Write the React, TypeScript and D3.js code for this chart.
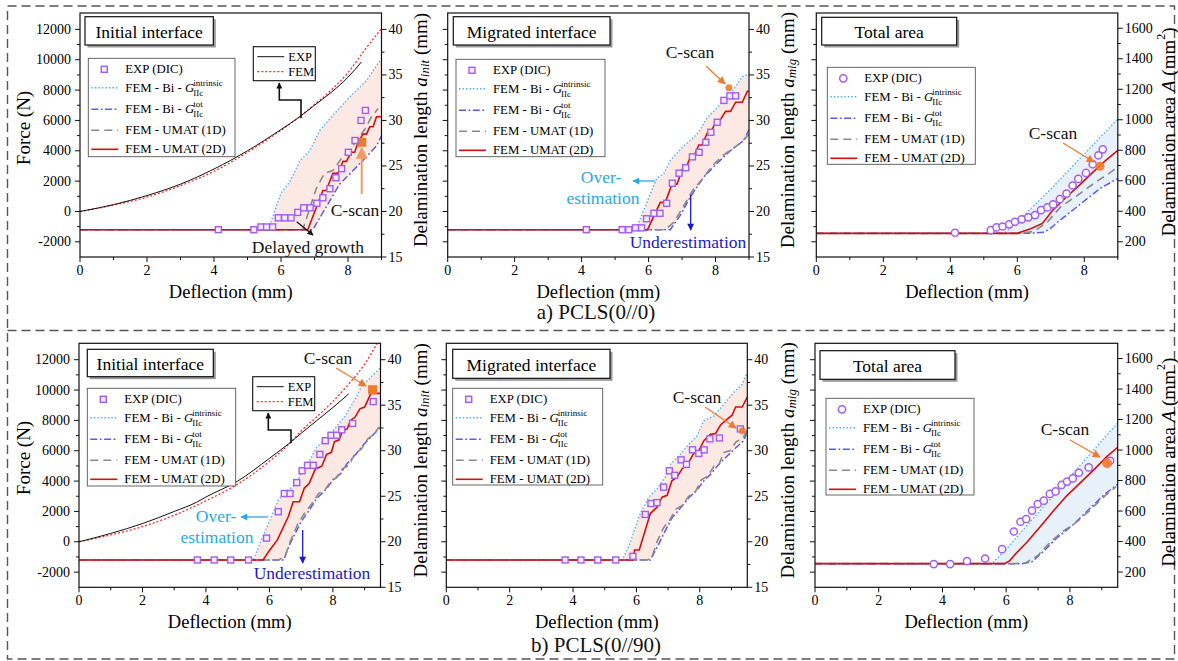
import React from "react";
import * as d3 from "d3";

type P = [number, number];

const FONT = "'Liberation Serif', 'Times New Roman', Times, serif";

// ---------- axis ticks ----------
const forceDomain: [number, number] = [-3000, 13080];
const forceMajor = [-2000, 0, 2000, 4000, 6000, 8000, 10000, 12000];
const forceMinor = [-1000, 1000, 3000, 5000, 7000, 9000, 11000];
const lengthMajor = [15, 20, 25, 30, 35, 40];
const lengthMinor = [17.5, 22.5, 27.5, 32.5, 37.5];
const areaMajor = [200, 400, 600, 800, 1000, 1200, 1400, 1600];
const areaMinor = [300, 500, 700, 900, 1100, 1300, 1500];
const deflMajor = [0, 2, 4, 6, 8];
const deflMinor = [1, 3, 5, 7, 9];

// ---------- a) PCLS(0//0) ----------
const forceExpA: P[] = [[0, 0], [1, 450], [2, 1050], [3, 1800], [4, 2800], [5, 4000], [6, 5400], [6.5, 6150], [7, 7000], [7.5, 7850], [8, 8850], [8.4, 9850]];
const forceFemA: P[] = [[0, 0], [1, 420], [2, 950], [3, 1700], [4, 2650], [5, 3900], [6, 5350], [6.5, 6150], [7, 7050], [7.5, 8000], [8, 9150], [8.5, 10650], [9, 12050]];

const dicA1: P[] = [[4.13, 18], [5.19, 18], [5.4, 18.3], [5.57, 18.3], [5.75, 18.3], [5.92, 19.3], [6.11, 19.3], [6.3, 19.3], [6.5, 19.9], [6.68, 20.4], [6.87, 20.4], [7.07, 20.9], [7.25, 21.5], [7.46, 22.5], [7.64, 23.7], [7.81, 24.7], [8.01, 26.5], [8.21, 27.8], [8.39, 30.0], [8.52, 31.1]];
const intrA1: P[] = [[0, 18], [5.62, 18], [6.0, 22.0], [6.27, 23.3], [6.57, 25.6], [6.85, 26.6], [7.16, 28.9], [7.56, 30.6], [8.06, 32.6], [8.56, 34.4], [8.9, 36.3], [9.0, 36.8]];
const totA1: P[] = [[0, 18], [6.95, 18], [7.35, 20.5], [7.75, 23.0], [8.15, 24.5], [8.55, 26.0], [8.85, 27.2], [9.0, 28.3]];
const umat1dA1: P[] = [[0, 18], [6.65, 18], [7.05, 22.5], [7.3, 24.2], [7.55, 24.5], [7.8, 25.8], [8.1, 27.0], [8.5, 29.0], [8.7, 30.4], [8.9, 31.3]];
const umat2dA1: P[] = [[0, 18], [6.8, 18], [7.25, 22.3], [7.35, 22.3], [7.55, 24.2], [7.7, 24.2], [7.85, 25.5], [7.95, 25.5], [8.1, 26.5], [8.2, 26.5], [8.3, 27.6], [8.45, 28.5], [8.55, 28.5], [8.65, 29.3], [8.75, 29.3], [8.85, 30.4], [9.0, 30.4]];
const cscanA1: P = [8.41, 27.6];

const dicA2: P[] = [[4.14, 18], [5.21, 18], [5.41, 18], [5.61, 18.2], [5.79, 18.2], [5.94, 19.2], [6.16, 19.8], [6.34, 19.8], [6.54, 20.9], [6.71, 23.1], [6.91, 24.2], [7.11, 24.8], [7.31, 26.0], [7.51, 26.5], [7.71, 27.6], [7.86, 28.7], [8.05, 29.8], [8.25, 32.2], [8.43, 32.7], [8.6, 32.7]];
const intrA2: P[] = [[0, 18], [5.62, 18], [5.95, 21.0], [6.25, 23.7], [6.45, 24.1], [6.65, 25.6], [7.05, 27.2], [7.3, 28.0], [7.5, 28.7], [7.75, 30.3], [8.0, 31.2], [8.25, 32.2], [8.5, 33.2], [8.8, 34.8], [9.0, 35.1]];
const totA2: P[] = [[0, 18], [6.65, 18], [6.95, 19.6], [7.25, 21.6], [7.65, 23.8], [8.05, 25.3], [8.45, 26.7], [8.85, 27.8], [9.0, 29.0]];
const umat1dA2: P[] = [[0, 18], [6.5, 18], [6.75, 18.8], [7.0, 20.3], [7.2, 21.6], [7.35, 22.5], [7.6, 23.5], [7.9, 25.0], [8.2, 26.1], [8.55, 27.0], [8.75, 27.5], [9.0, 28.5]];
const umat2dA2: P[] = [[0, 18], [5.97, 18], [6.35, 21.0], [6.5, 21.0], [6.7, 23.0], [6.85, 23.0], [7.0, 24.6], [7.1, 24.6], [7.25, 26.0], [7.35, 26.0], [7.5, 27.3], [7.6, 27.3], [7.75, 28.6], [7.85, 28.6], [8.0, 29.8], [8.1, 29.8], [8.3, 31.0], [8.45, 31.0], [8.6, 32.0], [8.8, 32.0], [8.95, 33.2], [9.0, 33.2]];
const cscanA2: P = [8.4, 33.6];

const dicA3: P[] = [[4.14, 259], [5.21, 276], [5.38, 294], [5.56, 300], [5.76, 314], [5.93, 331], [6.13, 347], [6.33, 360], [6.53, 375], [6.71, 407], [6.9, 425], [7.07, 445], [7.27, 479], [7.47, 516], [7.65, 569], [7.82, 612], [8.05, 651], [8.25, 708], [8.42, 767], [8.55, 806]];
const intrA3: P[] = [[0, 255], [5.6, 255], [6.0, 330], [7.0, 545], [8.0, 775], [9.0, 1005]];
const totA3: P[] = [[0, 255], [6.3, 255], [6.8, 262], [7.0, 290], [7.3, 345], [7.7, 415], [8.1, 485], [8.5, 553], [9.0, 615]];
const umat1dA3: P[] = [[0, 255], [6.1, 255], [6.5, 268], [6.9, 330], [7.3, 430], [7.8, 505], [8.3, 585], [8.75, 650], [9.0, 690]];
const umat2dA3: P[] = [[0, 255], [6.0, 255], [6.4, 285], [6.75, 320], [7.05, 405], [7.45, 490], [7.85, 570], [8.25, 655], [8.65, 735], [9.0, 800]];
const cscanA3: P = [8.47, 695];

// ---------- b) PCLS(0//90) ----------
const forceExpB: P[] = [[0, 0], [1, 550], [2, 1200], [3, 2000], [3.7, 2600], [4, 2950], [5, 4000], [6, 5500], [6.6, 6450], [7, 7150], [7.5, 8000], [8, 8850], [8.5, 9750]];
const forceFemB: P[] = [[0, 0], [1, 450], [2, 1000], [3, 1750], [4, 2700], [5, 3800], [6, 5300], [6.6, 6400], [7, 7300], [7.5, 8250], [8, 9250], [8.5, 10400], [9, 11700], [9.4, 13100]];

const dicB1: P[] = [[3.73, 18], [4.26, 18], [4.78, 18], [5.34, 18], [5.91, 20.4], [6.28, 23.3], [6.47, 25.3], [6.65, 25.3], [6.86, 26.5], [7.03, 27.8], [7.2, 28.4], [7.38, 28.4], [7.59, 29.6], [7.76, 31.1], [7.94, 31.7], [8.12, 31.7], [8.28, 32.3], [8.62, 33.0], [9.27, 35.4]];
const intrB1: P[] = [[0, 18], [5.49, 18], [5.75, 20.2], [6.02, 22.4], [6.28, 24.6], [6.59, 25.7], [6.86, 26.4], [7.01, 27.7], [7.28, 29.0], [7.49, 30.4], [7.7, 31.0], [7.91, 31.8], [8.12, 32.7], [8.38, 33.8], [8.69, 35.6], [8.91, 37.1], [9.17, 38.0], [9.5, 39.1]];
const totB1: P[] = [[0, 18], [6.45, 18], [6.65, 19.8], [7.0, 22.2], [7.2, 23.2], [7.5, 24.8], [7.8, 25.8], [8.0, 26.8], [8.25, 27.5], [8.45, 28.6], [8.7, 29.5], [8.95, 30.6], [9.2, 31.5], [9.5, 32.6]];
const umat1dB1: P[] = [[0, 18], [6.3, 18], [6.5, 18.5], [6.65, 20.0], [6.9, 22.0], [7.1, 23.1], [7.3, 24.0], [7.55, 25.3], [7.75, 25.7], [7.95, 26.7], [8.1, 27.0], [8.3, 28.0], [8.5, 28.4], [8.7, 29.7], [8.9, 30.2], [9.1, 31.3], [9.3, 31.8], [9.45, 32.6]];
const umat2dB1: P[] = [[0, 18], [5.8, 18], [5.95, 18.8], [6.25, 20.2], [6.6, 22.8], [6.75, 24.4], [6.95, 24.4], [7.1, 25.9], [7.25, 26.4], [7.45, 28.0], [7.65, 28.3], [7.8, 29.6], [7.95, 29.8], [8.05, 31.0], [8.2, 31.2], [8.3, 32.2], [8.45, 32.4], [8.55, 33.3], [8.7, 33.7], [8.85, 34.6], [9.0, 34.8], [9.2, 36.3], [9.5, 36.3]];
const cscanB1: P = [9.25, 36.7];

const dicB2: P[] = [[3.75, 18], [4.25, 18], [4.78, 18], [5.35, 18], [5.89, 18.4], [6.28, 23.0], [6.46, 24.2], [6.65, 24.3], [6.86, 26.0], [7.04, 27.8], [7.21, 27.3], [7.41, 29.0], [7.58, 28.5], [7.77, 30.1], [7.97, 29.7], [8.14, 30.1], [8.32, 31.3], [8.62, 31.4], [9.28, 32.4]];
const intrB2: P[] = [[0, 18], [5.55, 18], [5.76, 19.5], [6.12, 23.1], [6.39, 24.9], [6.65, 25.8], [6.91, 27.1], [7.07, 28.5], [7.39, 29.6], [7.65, 30.7], [7.91, 31.6], [8.13, 33.3], [8.44, 33.8], [8.76, 35.1], [9.07, 36.4], [9.34, 37.3], [9.5, 38.6]];
const totB2: P[] = [[0, 18], [6.44, 18], [6.7, 19.7], [6.91, 21.2], [7.12, 22.6], [7.39, 23.7], [7.65, 24.8], [7.91, 25.7], [8.13, 26.7], [8.34, 27.4], [8.6, 28.5], [8.86, 29.4], [9.13, 30.3], [9.39, 31.1], [9.5, 32.2]];
const umat1dB2: P[] = [[0, 18], [6.35, 18], [6.5, 18.4], [6.65, 20.0], [6.85, 21.5], [7.05, 22.4], [7.25, 23.6], [7.45, 24.0], [7.65, 25.0], [7.85, 25.4], [8.05, 26.8], [8.25, 27.2], [8.45, 28.3], [8.6, 28.4], [8.75, 29.8], [8.95, 30.0], [9.15, 31.0], [9.35, 31.3], [9.5, 32.3]];
const umat2dB2: P[] = [[0, 18], [5.91, 18], [5.94, 19.1], [6.09, 19.1], [6.44, 23.1], [6.65, 23.8], [6.81, 24.9], [6.97, 25.1], [7.12, 26.7], [7.28, 27.1], [7.44, 28.0], [7.6, 28.4], [7.81, 29.7], [7.97, 30.0], [8.13, 31.1], [8.34, 31.8], [8.5, 31.9], [8.65, 32.8], [8.81, 33.3], [9.02, 33.9], [9.13, 34.8], [9.34, 34.8], [9.5, 35.9]];
const cscanB2: P = [9.34, 32.2];

const dicB3: P[] = [[3.73, 252], [4.24, 252], [4.77, 272], [5.34, 289], [5.87, 350], [6.24, 466], [6.45, 530], [6.63, 548], [6.81, 603], [6.99, 646], [7.18, 668], [7.37, 712], [7.55, 729], [7.74, 771], [7.91, 793], [8.09, 814], [8.28, 851], [8.59, 886], [9.26, 930]];
const intrB3: P[] = [[0, 255], [5.55, 255], [6.0, 350], [7.0, 588], [8.0, 824], [9.0, 1060], [9.5, 1178]];
const totB3: P[] = [[0, 255], [6.5, 255], [6.8, 265], [7.1, 322], [7.6, 425], [8.1, 510], [8.6, 612], [9.1, 712], [9.5, 775]];
const umat1dB3: P[] = [[0, 255], [6.3, 255], [6.6, 258], [7.0, 310], [7.4, 400], [7.8, 470], [8.2, 525], [8.6, 600], [9.1, 700], [9.45, 760]];
const umat2dB3: P[] = [[0, 255], [5.95, 255], [6.1, 272], [6.3, 320], [6.65, 395], [7.1, 505], [7.5, 605], [7.9, 700], [8.3, 780], [8.75, 870], [9.15, 955], [9.5, 1018]];
const cscanB3: P = [9.17, 913];

// ---------- styles ----------
const C_INTR = "#4db4f2";
const C_TOT = "#5a5af0";
const C_1D = "#8a8a8a";
const C_2D = "#d40f0f";
const C_DIC = "#a35cf2";
const C_ORANGE = "#ef7a2c";
const PINK = "#fde9e3";
const LBLUE = "#e8f0fa";

interface Cfg {
  id: string; x0: number; x1: number; y0: number; y1: number; xMax: number;
  kind: "length" | "area"; showLeft: boolean; fill: string; marker: "square" | "circle";
  dic: P[]; intr: P[]; tot: P[]; d1: P[]; d2: P[]; cscan: P; cscanShape: "square" | "circle"; cscanSize: number;
  forceExp?: P[]; forceFem?: P[];
}

const TOP = { y0: 13, y1: 257 };
const BOT = { y0: 343.3, y1: 587.3 };

const panels: Cfg[] = [
  { id: "a1", x0: 80, x1: 381.5, ...TOP, xMax: 9, kind: "length", showLeft: true, fill: PINK, marker: "square", dic: dicA1, intr: intrA1, tot: totA1, d1: umat1dA1, d2: umat2dA1, cscan: cscanA1, cscanShape: "square", cscanSize: 9, forceExp: forceExpA, forceFem: forceFemA },
  { id: "a2", x0: 447.7, x1: 749, ...TOP, xMax: 9, kind: "length", showLeft: false, fill: PINK, marker: "square", dic: dicA2, intr: intrA2, tot: totA2, d1: umat1dA2, d2: umat2dA2, cscan: cscanA2, cscanShape: "circle", cscanSize: 3.5 },
  { id: "a3", x0: 816.3, x1: 1117.8, ...TOP, xMax: 9, kind: "area", showLeft: false, fill: LBLUE, marker: "circle", dic: dicA3, intr: intrA3, tot: totA3, d1: umat1dA3, d2: umat2dA3, cscan: cscanA3, cscanShape: "circle", cscanSize: 4.5 },
  { id: "b1", x0: 79, x1: 380.5, ...BOT, xMax: 9.5, kind: "length", showLeft: true, fill: PINK, marker: "square", dic: dicB1, intr: intrB1, tot: totB1, d1: umat1dB1, d2: umat2dB1, cscan: cscanB1, cscanShape: "square", cscanSize: 9, forceExp: forceExpB, forceFem: forceFemB },
  { id: "b2", x0: 446.3, x1: 747.3, ...BOT, xMax: 9.5, kind: "length", showLeft: false, fill: PINK, marker: "square", dic: dicB2, intr: intrB2, tot: totB2, d1: umat1dB2, d2: umat2dB2, cscan: cscanB2, cscanShape: "circle", cscanSize: 3.5 },
  { id: "b3", x0: 815, x1: 1117.7, ...BOT, xMax: 9.5, kind: "area", showLeft: false, fill: LBLUE, marker: "circle", dic: dicB3, intr: intrB3, tot: totB3, d1: umat1dB3, d2: umat2dB3, cscan: cscanB3, cscanShape: "circle", cscanSize: 5 },
];

function DicMarker({ x, y, m }: { x: number; y: number; m: "square" | "circle" }) {
  return m === "square"
    ? <rect x={x - 3} y={y - 3} width={6} height={6} fill="#f4ecff" stroke={C_DIC} strokeWidth={1.4} />
    : <circle cx={x} cy={y} r={3.6} fill="#fff" stroke={C_DIC} strokeWidth={1.5} />;
}

function Panel({ c }: { c: Cfg }) {
  const xs = d3.scaleLinear().domain([0, c.xMax]).range([c.x0, c.x1]);
  const rDomain: [number, number] = c.kind === "length" ? [15, 41.8] : [100, 1700];
  const yR = d3.scaleLinear().domain(rDomain).range([c.y1, c.y0]);
  const yF = d3.scaleLinear().domain(forceDomain).range([c.y1, c.y0]);
  const lr = d3.line<P>().x(d => xs(d[0])).y(d => yR(d[1]));
  const lf = d3.line<P>().x(d => xs(d[0])).y(d => yF(d[1])).curve(d3.curveMonotoneX);
  const band = (lr([...c.intr, ...c.tot.slice().reverse()]) || "") + "Z";
  const clip = "clip-" + c.id;
  const rMajor = c.kind === "length" ? lengthMajor : areaMajor;
  const rMinor = c.kind === "length" ? lengthMinor : areaMinor;
  const xMaj = deflMajor.filter(v => v <= c.xMax + 1e-6);
  const xMin = deflMinor.filter(v => v <= c.xMax + 1e-6);
  const cx = xs(c.cscan[0]), cy = yR(c.cscan[1]);
  return (
    <g>
      <defs>
        <clipPath id={clip}><rect x={c.x0} y={c.y0} width={c.x1 - c.x0} height={c.y1 - c.y0} /></clipPath>
      </defs>
      <g clipPath={`url(#${clip})`}>
        <path d={band} fill={c.fill} stroke="none" />
        {c.forceFem && <path d={lf(c.forceFem) || ""} fill="none" stroke="#ff2b2b" strokeWidth={1.3} strokeDasharray="2,2" />}
        {c.forceExp && <path d={lf(c.forceExp) || ""} fill="none" stroke="#111" strokeWidth={1} />}
        <path d={lr(c.intr) || ""} fill="none" stroke={C_INTR} strokeWidth={1.4} strokeDasharray="1.5,2" />
        <path d={lr(c.tot) || ""} fill="none" stroke={C_TOT} strokeWidth={1.5} strokeDasharray="7,2.5,1.8,2.5" />
        <path d={lr(c.d1) || ""} fill="none" stroke={C_1D} strokeWidth={1.6} strokeDasharray="8,5" />
        <path d={lr(c.d2) || ""} fill="none" stroke={C_2D} strokeWidth={1.6} />
        {c.cscanShape === "square"
          ? <rect x={cx - c.cscanSize / 2} y={cy - c.cscanSize / 2} width={c.cscanSize} height={c.cscanSize} fill={C_ORANGE} />
          : null}
        {c.dic.map((d, i) => <DicMarker key={i} x={xs(d[0])} y={yR(d[1])} m={c.marker} />)}
        {c.cscanShape === "circle" ? <circle cx={cx} cy={cy} r={c.cscanSize} fill={C_ORANGE} opacity={0.9} /> : null}
      </g>
      <rect x={c.x0} y={c.y0} width={c.x1 - c.x0} height={c.y1 - c.y0} fill="none" stroke="#111" strokeWidth={1.2} />
      {/* x ticks */}
      {xMaj.map(t => <g key={"xm" + t}>
        <line x1={xs(t)} x2={xs(t)} y1={c.y1} y2={c.y1 + 5} stroke="#111" strokeWidth={1} />
        <text x={xs(t)} y={c.y1 + 13} textAnchor="middle" dominantBaseline="central" fontSize={14}>{t}</text>
      </g>)}
      {xMin.map(t => <line key={"xn" + t} x1={xs(t)} x2={xs(t)} y1={c.y1} y2={c.y1 + 3} stroke="#111" strokeWidth={1} />)}
      {/* left (force scale) ticks */}
      {forceMajor.map(t => <g key={"fm" + t}>
        <line x1={c.x0 - 5} x2={c.x0} y1={yF(t)} y2={yF(t)} stroke="#111" strokeWidth={1} />
        {c.showLeft && <text x={c.x0 - 9} y={yF(t)} textAnchor="end" dominantBaseline="central" fontSize={14}>{t}</text>}
      </g>)}
      {forceMinor.map(t => <line key={"fn" + t} x1={c.x0 - 3} x2={c.x0} y1={yF(t)} y2={yF(t)} stroke="#111" strokeWidth={1} />)}
      {/* right ticks */}
      {rMajor.map(t => <g key={"rm" + t}>
        <line x1={c.x1} x2={c.x1 + 5} y1={yR(t)} y2={yR(t)} stroke="#111" strokeWidth={1} />
        <text x={c.x1 + 7} y={yR(t)} textAnchor="start" dominantBaseline="central" fontSize={14}>{t}</text>
      </g>)}
      {rMinor.map(t => <line key={"rn" + t} x1={c.x1} x2={c.x1 + 3} y1={yR(t)} y2={yR(t)} stroke="#111" strokeWidth={1} />)}
      <text x={(c.x0 + c.x1) / 2} y={c.y1 + 35} textAnchor="middle" dominantBaseline="central" fontSize={18.5}>Deflection (mm)</text>
    </g>
  );
}

function TitleBox({ x, y, w, h, text }: { x: number; y: number; w: number; h: number; text: string }) {
  return (
    <g>
      <rect x={x + 2.5} y={y + 2.5} width={w} height={h} fill="#9a9a9a" />
      <rect x={x} y={y} width={w} height={h} fill="#fff" stroke="#111" strokeWidth={1.2} />
      <text x={x + w / 2} y={y + h / 2 + 1} textAnchor="middle" dominantBaseline="central" fontSize={17.5}>{text}</text>
    </g>
  );
}

function Legend({ x, y, w, h, m }: { x: number; y: number; w: number; h: number; m: "square" | "circle" }) {
  const rows = [11, 29.5, 51, 72, 91];
  const l0 = x + 3, l1 = x + 30, tx = x + 37, fs = 12.8;
  return (
    <g fontSize={fs}>
      <rect x={x} y={y} width={w} height={h} fill="#fff" stroke="#555" strokeWidth={0.9} />
      <DicMarker x={x + 16} y={y + rows[0]} m={m} />
      <text x={tx} y={y + rows[0]} dominantBaseline="central">EXP (DIC)</text>
      <line x1={l0} x2={l1} y1={y + rows[1]} y2={y + rows[1]} stroke={C_INTR} strokeWidth={1.4} strokeDasharray="1.5,2" />
      <text x={tx} y={y + rows[1]} dominantBaseline="central">FEM - Bi - <tspan fontStyle="italic">G</tspan></text>
      <text x={tx + 68} y={y + rows[1] - 5} fontSize={9} dominantBaseline="central">intrinsic</text>
      <text x={tx + 68} y={y + rows[1] + 5} fontSize={9} dominantBaseline="central">IIc</text>
      <line x1={l0} x2={l1} y1={y + rows[2]} y2={y + rows[2]} stroke={C_TOT} strokeWidth={1.5} strokeDasharray="7,2.5,1.8,2.5" />
      <text x={tx} y={y + rows[2]} dominantBaseline="central">FEM - Bi - <tspan fontStyle="italic">G</tspan></text>
      <text x={tx + 68} y={y + rows[2] - 5} fontSize={9} dominantBaseline="central">tot</text>
      <text x={tx + 68} y={y + rows[2] + 5} fontSize={9} dominantBaseline="central">IIc</text>
      <line x1={l0} x2={l1} y1={y + rows[3]} y2={y + rows[3]} stroke={C_1D} strokeWidth={1.6} strokeDasharray="8,5" />
      <text x={tx} y={y + rows[3]} dominantBaseline="central">FEM - UMAT (1D)</text>
      <line x1={l0} x2={l1} y1={y + rows[4]} y2={y + rows[4]} stroke={C_2D} strokeWidth={1.6} />
      <text x={tx} y={y + rows[4]} dominantBaseline="central">FEM - UMAT (2D)</text>
    </g>
  );
}

function ForceLegend({ x, y }: { x: number; y: number }) {
  return (
    <g fontSize={12.5}>
      <rect x={x} y={y} width={62} height={34} fill="#fff" stroke="#111" strokeWidth={1.1} />
      <line x1={x + 4} x2={x + 31} y1={y + 10} y2={y + 10} stroke="#111" strokeWidth={1} />
      <text x={x + 35} y={y + 10} dominantBaseline="central">EXP</text>
      <line x1={x + 4} x2={x + 31} y1={y + 25} y2={y + 25} stroke="#ff2b2b" strokeWidth={1.3} strokeDasharray="2,2" />
      <text x={x + 35} y={y + 25} dominantBaseline="central">FEM</text>
    </g>
  );
}

function RotLabel({ x, y, children }: { x: number; y: number; children: React.ReactNode }) {
  return (
    <text transform={`translate(${x},${y}) rotate(-90)`} textAnchor="middle" dominantBaseline="central" fontSize={19}>
      {children}
    </text>
  );
}

export default function App() {
  const txt = (x: number, y: number, s: string, fill = "#111", fs = 17.5) =>
    <text x={x} y={y} textAnchor="middle" dominantBaseline="central" fontSize={fs} fill={fill}>{s}</text>;
  return (
    <svg width={1178} height={661} style={{ position: "absolute", left: 0, top: 0, background: "#fff" }} fontFamily={FONT}>
      <defs>
        <marker id="ahO" viewBox="0 0 10 10" refX="9" refY="5" markerWidth="9" markerHeight="8" markerUnits="userSpaceOnUse" orient="auto">
          <path d="M0,0 L10,5 L0,10 z" fill={C_ORANGE} />
        </marker>
        <marker id="ahO2" viewBox="0 0 10 10" refX="9" refY="5" markerWidth="13" markerHeight="12" markerUnits="userSpaceOnUse" orient="auto">
          <path d="M0,0 L10,5 L0,10 z" fill="#f29a63" />
        </marker>
        <marker id="ahK" viewBox="0 0 10 10" refX="9" refY="5" markerWidth="7" markerHeight="6" markerUnits="userSpaceOnUse" orient="auto">
          <path d="M0,0 L10,5 L0,10 z" fill="#111" />
        </marker>
        <marker id="ahL" viewBox="0 0 10 10" refX="9" refY="5" markerWidth="8" markerHeight="7" markerUnits="userSpaceOnUse" orient="auto">
          <path d="M0,0 L10,5 L0,10 z" fill="#27a9e8" />
        </marker>
        <marker id="ahB" viewBox="0 0 10 10" refX="9" refY="5" markerWidth="8" markerHeight="7" markerUnits="userSpaceOnUse" orient="auto">
          <path d="M0,0 L10,5 L0,10 z" fill="#1a1ac8" />
        </marker>
      </defs>

      {/* dashed frames */}
      <g fill="none" stroke="#555" strokeWidth={1.4} strokeDasharray="9,5">
        <rect x={7.5} y={6} width={1167} height={653} />
        <line x1={7.5} x2={1174.5} y1={330.5} y2={330.5} />
      </g>

      {panels.map(c => <Panel key={c.id} c={c} />)}

      {/* titles */}
      <TitleBox x={85} y={16.7} w={128.3} h={28.3} text="Initial interface" />
      <TitleBox x={453.3} y={16.7} w={156.7} h={28.3} text="Migrated interface" />
      <TitleBox x={821.7} y={17.3} w={135} h={27.7} text="Total area" />
      <TitleBox x={87.3} y={349.3} w={126} h={27.4} text="Initial interface" />
      <TitleBox x={452.7} y={349.3} w={157.3} h={29} text="Migrated interface" />
      <TitleBox x={820} y={350.7} w={135} h={28.6} text="Total area" />

      {/* legends */}
      <Legend x={88.3} y={58.3} w={146.7} h={98.4} m="square" />
      <Legend x={456} y={59.3} w={149} h={97.4} m="square" />
      <Legend x={827.3} y={67.3} w={148} h={97} m="circle" />
      <Legend x={87.3} y={388.3} w={148.4} h={97.7} m="square" />
      <Legend x={452.7} y={388.3} w={150} h={96.7} m="square" />
      <Legend x={826} y={398.3} w={148} h={96.7} m="circle" />

      {/* force legends with elbow arrows */}
      <ForceLegend x={253.3} y={46.7} />
      <polyline points="301,118.3 301,100 279.3,100 279.3,83" fill="none" stroke="#111" strokeWidth={1.6} markerEnd="url(#ahK)" />
      <ForceLegend x={252.7} y={376.7} />
      <polyline points="291,443.3 291,430 268.3,430 268.3,413" fill="none" stroke="#111" strokeWidth={1.6} markerEnd="url(#ahK)" />

      {/* axis titles */}
      <RotLabel x={23} y={128}>Force (N)</RotLabel>
      <RotLabel x={23} y={458}>Force (N)</RotLabel>
      {[0, 330.3].map(dy => (
        <g key={dy}>
          <RotLabel x={420} y={130 + dy}>Delamination length <tspan fontStyle="italic">a</tspan><tspan fontStyle="italic" fontSize={13} dy={4}>init</tspan><tspan dy={-4}> (mm)</tspan></RotLabel>
          <RotLabel x={787} y={130 + dy}>Delamination length <tspan fontStyle="italic">a</tspan><tspan fontStyle="italic" fontSize={13} dy={4}>mig</tspan><tspan dy={-4}> (mm)</tspan></RotLabel>
          <RotLabel x={1168} y={132 + dy}>Delamination area <tspan fontStyle="italic">A</tspan> (mm<tspan fontSize={12} dy={-7}>2</tspan><tspan dy={7}>)</tspan></RotLabel>
        </g>
      ))}

      {/* annotations: top row */}
      {txt(355, 210, "C-scan")}
      <line x1={361.7} y1={194} x2={361.7} y2={148} stroke="#f29a63" strokeWidth={2} markerEnd="url(#ahO2)" />
      {txt(308, 247, "Delayed growth")}
      <line x1={296.7} y1={221.7} x2={313} y2={235} stroke="#111" strokeWidth={1.3} markerEnd="url(#ahK)" />

      {txt(690, 52, "C-scan")}
      <line x1={706} y1={66} x2={725} y2={84} stroke={C_ORANGE} strokeWidth={1.2} markerEnd="url(#ahO)" />
      {txt(601, 177, "Over-", "#27a9e8")}
      {txt(603, 198, "estimation", "#27a9e8")}
      <line x1={655} y1={181} x2={633} y2={181} stroke="#27a9e8" strokeWidth={1.3} markerEnd="url(#ahL)" />
      {txt(688, 242, "Underestimation", "#1a1ac8")}
      <line x1={690.7} y1={195} x2={690.7} y2={230} stroke="#1a1ac8" strokeWidth={1.3} markerEnd="url(#ahB)" />

      {txt(1053, 133, "C-scan")}
      <line x1={1063} y1={143} x2={1094} y2={162} stroke={C_ORANGE} strokeWidth={1.2} markerEnd="url(#ahO)" />

      {/* annotations: bottom row */}
      {txt(328, 358, "C-scan")}
      <line x1={336} y1={368} x2={366} y2={386} stroke={C_ORANGE} strokeWidth={1.2} markerEnd="url(#ahO)" />
      {txt(216, 516, "Over-", "#27a9e8")}
      {txt(217, 537, "estimation", "#27a9e8")}
      <line x1={268} y1={517} x2={241} y2={517} stroke="#27a9e8" strokeWidth={1.3} markerEnd="url(#ahL)" />
      {txt(312, 573, "Underestimation", "#1a1ac8")}
      <line x1={302.7} y1={530} x2={302.7} y2={563} stroke="#1a1ac8" strokeWidth={1.3} markerEnd="url(#ahB)" />

      {txt(697, 397, "C-scan")}
      <line x1={705} y1={407} x2={736} y2={428} stroke={C_ORANGE} strokeWidth={1.2} markerEnd="url(#ahO)" />

      {txt(1065, 429, "C-scan")}
      <line x1={1070} y1={440} x2={1100} y2={457} stroke={C_ORANGE} strokeWidth={1.2} markerEnd="url(#ahO)" />

      {/* captions */}
      {txt(596, 312, "a) PCLS(0//0)", "#111", 21)}
      {txt(596, 645, "b) PCLS(0//90)", "#111", 21)}
    </svg>
  );
}
